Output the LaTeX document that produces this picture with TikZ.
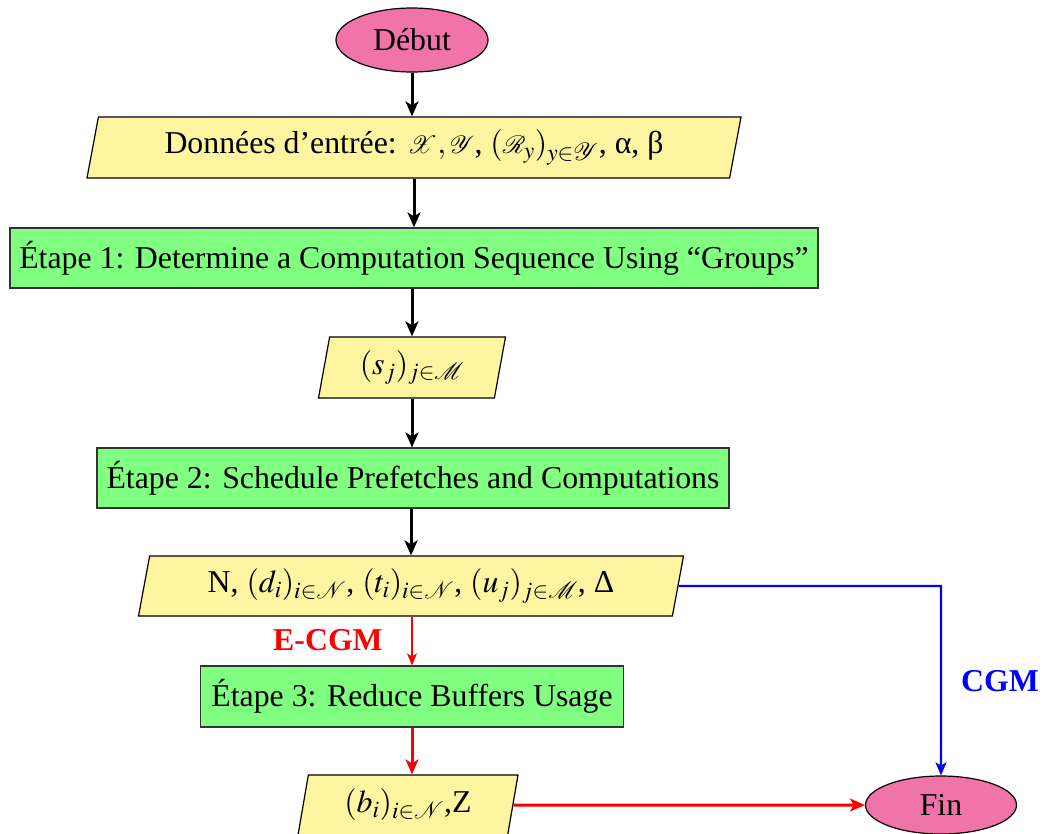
\documentclass[tikz,border=0pt]{standalone}
\usepackage{mathptmx}
\usepackage{mathrsfs}
\usepackage[no-math]{fontspec}
\setmainfont{Liberation Serif}
\usetikzlibrary{shapes.geometric,arrows.meta}
\definecolor{pinkfill}{RGB}{240,115,170}
\definecolor{yellowfill}{RGB}{255,245,160}
\definecolor{greenfill}{RGB}{128,255,128}
\begin{document}
\begin{tikzpicture}[x=1pt,y=-1pt,
  every node/.style={font=\fontsize{31.8}{38}\selectfont},
  term/.style={ellipse,draw=black,line width=1.2pt,fill=pinkfill,inner sep=0pt},
  databox/.style={trapezium,trapezium left angle=72,trapezium right angle=108,
     trapezium stretches body,draw=black,line width=1.2pt,fill=yellowfill,inner sep=0pt},
  stepbox/.style={rectangle,draw=black!80,line width=1.2pt,fill=greenfill,inner sep=0pt},
  blackarrow/.style={line width=3pt,-{Stealth[length=15pt,width=13pt,inset=4pt]}},
  redthick/.style={draw=red,line width=3pt,-{Stealth[length=15pt,width=13pt,inset=4pt]}},
  redthin/.style={draw=red,line width=1.5pt,-{Stealth[length=12pt,width=10pt,inset=3pt]}},
  bluethin/.style={draw=blue,line width=2.2pt,-{Stealth[length=13pt,width=11pt,inset=3pt]}},
  lab/.style={font=\fontsize{31.8}{38}\selectfont\bfseries}
]
\useasboundingbox (0,0) rectangle (1043,833);
\node[term,minimum width=152pt,minimum height=64pt] (debut) at (412,40) {Début};
\node[databox,minimum width=654pt,minimum height=61pt] (donnees) at (414,147.5)
  {Données d’entrée: $\mathscr{X},\mathscr{Y}$, $(\mathscr{R}_y)_{y\in\mathscr{Y}}$, α, β};
\node[stepbox,minimum width=808pt,minimum height=60pt] (etape1) at (414,258)
  {Étape 1: Determine a Computation Sequence Using “Groups”};
\node[databox,minimum width=187pt,minimum height=61pt] (sj) at (412,367.5)
  {$(s_j)_{j\in\mathcal{M}}$};
\node[stepbox,minimum width=632pt,minimum height=60pt] (etape2) at (413,478)
  {Étape 2: Schedule Prefetches and Computations};
\node[databox,minimum width=545pt,minimum height=60pt] (nn) at (411,586)
  {N, $(d_i)_{i\in\mathcal{N}}$, $(t_i)_{i\in\mathcal{N}}$, $(u_j)_{j\in\mathcal{M}}$, Δ};
\node[stepbox,minimum width=423pt,minimum height=61pt] (etape3) at (412,696.5)
  {Étape 3: Reduce Buffers Usage};
\node[databox,minimum width=220pt,minimum height=60pt] (bi) at (408,805)
  {$(b_i)_{i\in\mathcal{N}}$,Z};
\node[term,minimum width=151pt,minimum height=58pt] (fin) at (941,805) {Fin};
\node[lab,text=red] (ecgm) at (328,640) {E-CGM};
\node[lab,text=blue] (cgm) at (1000,681) {CGM};
\coordinate (corner) at (941,586);

\draw[blackarrow] (debut.south) -- (debut.south |- donnees.north);
\draw[blackarrow] (donnees.south -| etape1.north) -- (etape1.north);
\draw[blackarrow] (etape1.south -| sj.north) -- (sj.north);
\draw[blackarrow] (sj.south) -- (sj.south |- etape2.north);
\draw[blackarrow] (etape2.south -| nn.north) -- (nn.north);
\draw[redthin] (nn.south -| etape3.north) -- (etape3.north);
\draw[redthick] (etape3.south) -- (etape3.south |- bi.north);
\draw[redthick] (bi.east) -- (fin.west);
\draw[bluethin] (nn.east) -- (corner) -- (fin.north);
\end{tikzpicture}
\end{document}
